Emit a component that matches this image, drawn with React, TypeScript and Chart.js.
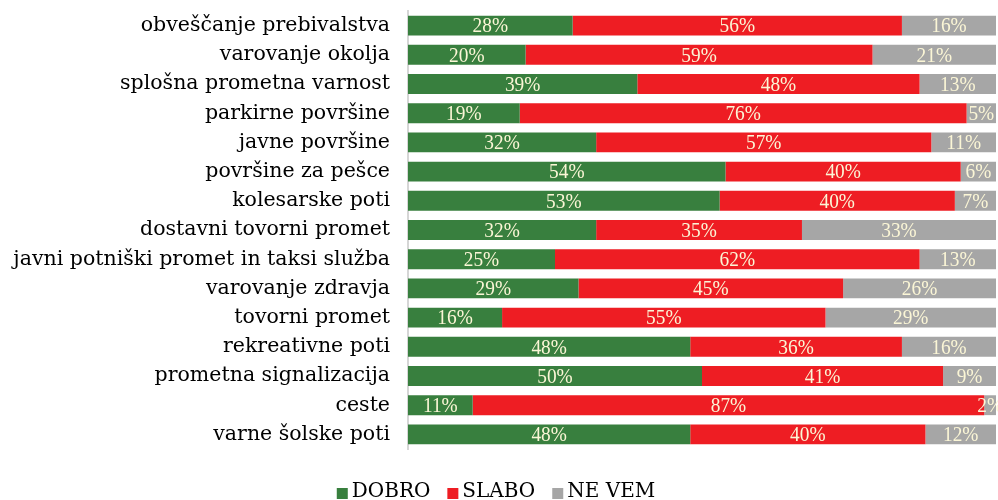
import React, { useEffect, useRef } from "react";
import { Chart, registerables } from "chart.js";

Chart.register(...registerables);

const categories = [
  "obveščanje prebivalstva",
  "varovanje okolja",
  "splošna prometna varnost",
  "parkirne površine",
  "javne površine",
  "površine za pešce",
  "kolesarske poti",
  "dostavni tovorni promet",
  "javni potniški promet in taksi služba",
  "varovanje zdravja",
  "tovorni promet",
  "rekreativne poti",
  "prometna signalizacija",
  "ceste",
  "varne šolske poti",
];

const dobro = [28, 20, 39, 19, 32, 54, 53, 32, 25, 29, 16, 48, 50, 11, 48];
const slabo = [56, 59, 48, 76, 57, 40, 40, 35, 62, 45, 55, 36, 41, 87, 40];
const neVem = [16, 21, 13, 5, 11, 6, 7, 33, 13, 26, 29, 16, 9, 2, 12];

const seriesNames = ["DOBRO", "SLABO", "NE VEM"];
const seriesColors = ["#387F3E", "#EE1D23", "#A6A6A6"];

const LEGEND_FONT = "20px 'DejaVu Serif'";
const VALUE_FONT = "22px 'Liberation Serif'";
const VALUE_COLOR = "#FBF6D6";

const valueLabels = {
  id: "valueLabels",
  afterDatasetsDraw(chart: any) {
    const ctx = chart.ctx;
    ctx.save();
    ctx.font = VALUE_FONT;
    ctx.fillStyle = VALUE_COLOR;
    ctx.textAlign = "center";
    ctx.textBaseline = "middle";
    chart.data.datasets.forEach((ds: any, di: number) => {
      const meta = chart.getDatasetMeta(di);
      meta.data.forEach((el: any, i: number) => {
        const v = ds.data[i];
        const cx = (el.x + el.base) / 2;
        ctx.save();
        ctx.translate(cx, el.y + 1);
        ctx.scale(0.88, 1);
        ctx.fillText(v + "%", 0, 0);
        ctx.restore();
      });
    });
    ctx.restore();
  },
};

const customLegend = {
  id: "customLegend",
  afterDraw(chart: any) {
    const ctx = chart.ctx;
    ctx.save();
    ctx.font = LEGEND_FONT;
    ctx.textBaseline = "middle";
    ctx.textAlign = "left";
    const box = 11;
    const gap = 4;
    const itemGap = 17;
    const widths = seriesNames.map((n) => box + gap + ctx.measureText(n).width);
    const total = widths.reduce((a, b) => a + b, 0) + itemGap * (seriesNames.length - 1);
    let x = (chart.width - total) / 2 - 3;
    const y = 492;
    seriesNames.forEach((n, i) => {
      ctx.fillStyle = seriesColors[i];
      ctx.fillRect(x, y - 4, box, box);
      ctx.fillStyle = "#000";
      ctx.fillText(n, x + box + gap, y);
      x += widths[i] + itemGap;
    });
    ctx.restore();
  },
};

export default function App() {
  const ref = useRef<HTMLCanvasElement | null>(null);
  useEffect(() => {
    document.body.style.margin = "0";
    const canvas = ref.current!;
    const chart = new Chart(canvas, {
      type: "bar",
      data: {
        labels: categories,
        datasets: [dobro, slabo, neVem].map((d, i) => ({
          label: seriesNames[i],
          data: d,
          backgroundColor: seriesColors[i],
          borderWidth: 0,
          barPercentage: 0.68,
          categoryPercentage: 1,
        })),
      },
      options: {
        indexAxis: "y",
        responsive: false,
        animation: false,
        layout: { padding: { top: 11, right: 2, bottom: 51, left: 0 } },
        plugins: {
          legend: { display: false },
          tooltip: { enabled: false },
          title: { display: false },
        },
        scales: {
          x: { stacked: true, min: 0, max: 100, display: false },
          y: {
            stacked: true,
            afterFit: (s: any) => {
              s.width = 408;
              s.paddingTop = 0;
              s.paddingBottom = 0;
            },
            grid: { display: false },
            border: { display: true, color: "#D6D6D6", width: 2 },
            ticks: {
              autoSkip: false,
              padding: 10,
              color: "#000",
              font: { family: "'DejaVu Serif'", size: 20.5 },
            },
          },
        },
      },
      plugins: [valueLabels, customLegend],
    });
    return () => chart.destroy();
  }, []);
  return (
    <div style={{ width: 998, height: 500 }}>
      <canvas ref={ref} width={998} height={500} />
    </div>
  );
}
